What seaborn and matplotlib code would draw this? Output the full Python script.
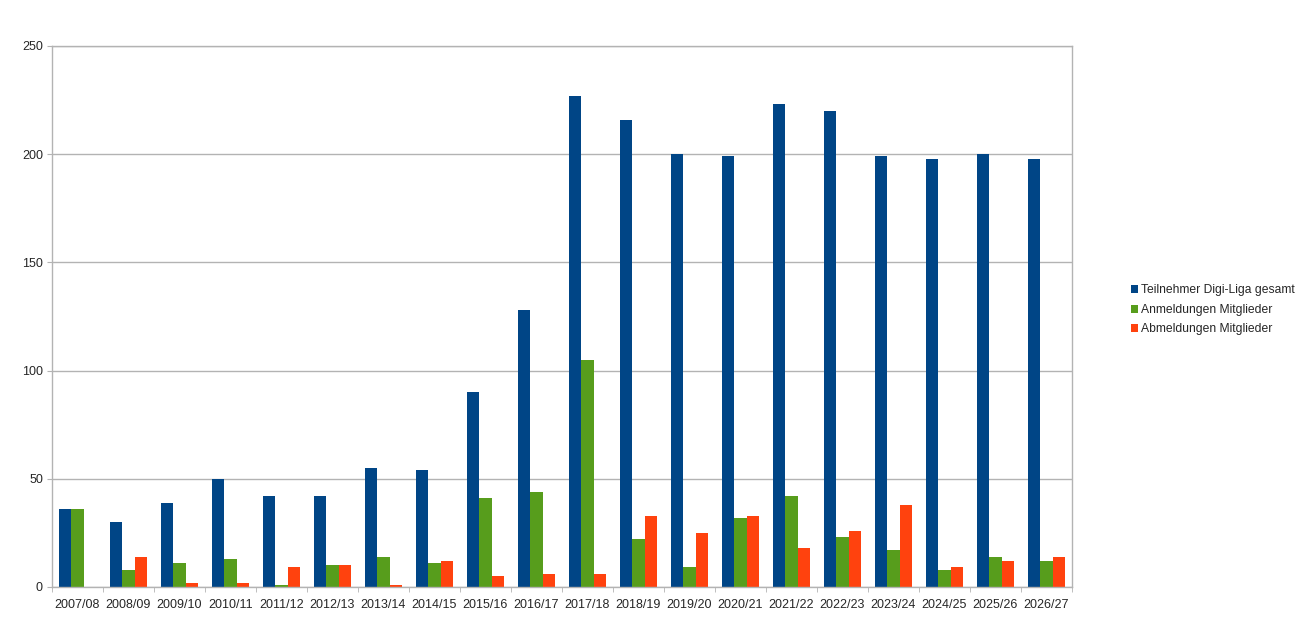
import pandas as pd
import matplotlib.pyplot as plt
import seaborn as sns
from matplotlib.ticker import FixedLocator

# data
seasons = ['2007/08', '2008/09', '2009/10', '2010/11', '2011/12', '2012/13', '2013/14',
           '2014/15', '2015/16', '2016/17', '2017/18', '2018/19', '2019/20', '2020/21',
           '2021/22', '2022/23', '2023/24', '2024/25', '2025/26', '2026/27']
teilnehmer = [36, 30, 39, 50, 42, 42, 55, 54, 90, 128, 227, 216, 200, 199, 223, 220, 199, 198, 200, 198]
anmeldungen = [36, 8, 11, 13, 1, 10, 14, 11, 41, 44, 105, 22, 9, 32, 42, 23, 17, 8, 14, 12]
abmeldungen = [0, 14, 2, 2, 9, 10, 1, 12, 5, 6, 6, 33, 25, 33, 18, 26, 38, 9, 12, 14]

series_names = ['Teilnehmer Digi-Liga gesamt', 'Anmeldungen Mitglieder', 'Abmeldungen Mitglieder']
colors = ['#004586', '#579d1c', '#ff420e']

df = pd.DataFrame({
    'Saison': seasons * 3,
    'Wert': teilnehmer + anmeldungen + abmeldungen,
    'Serie': [s for s in series_names for _ in seasons],
})

sns.set_style('white')
plt.rcParams['font.family'] = ['Liberation Sans', 'DejaVu Sans']

fig = plt.figure(figsize=(13.09, 6.3), dpi=100)
ax = fig.add_axes([0.0397, 0.0683, 0.7792, 0.8587])

sns.barplot(data=df, x='Saison', y='Wert', hue='Serie', palette=colors,
            width=0.74, saturation=1, ax=ax, edgecolor='none', legend=True)

ax.set_ylim(0, 250)
ax.set_xlim(-0.5, len(seasons) - 0.5)
ax.set_yticks(range(0, 251, 50))
ax.yaxis.grid(True, color='#b3b3b3', linewidth=1)
ax.set_axisbelow(True)
ax.set_xlabel('')
ax.set_ylabel('')

for sp in ax.spines.values():
    sp.set_color('#b3b3b3')
    sp.set_linewidth(1)

ax.tick_params(axis='x', which='major', length=0, labelsize=9, pad=8.5)
ax.tick_params(axis='y', which='major', length=3.5, color='#b3b3b3', labelsize=9, left=True, pad=3)
ax.xaxis.set_minor_locator(FixedLocator([i + 0.5 for i in range(-1, len(seasons))]))
ax.tick_params(axis='x', which='minor', length=3.5, color='#b3b3b3', bottom=True)

ax.legend(loc='center left', bbox_to_anchor=(1.047, 0.512), frameon=False,
          fontsize=8.7, handlelength=0.6, handleheight=0.6, handletextpad=0.25,
          labelspacing=0.62)

plt.savefig('out.png', dpi=100)
